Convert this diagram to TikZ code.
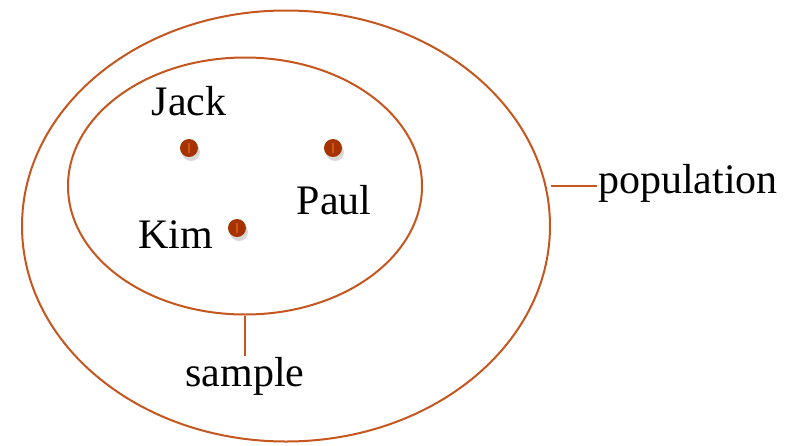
\documentclass[tikz,border=0pt]{standalone}
\usepackage{fontspec}
\setmainfont{Liberation Serif}
\usepackage{xcolor}
\usetikzlibrary{shapes.geometric, shadows}
\definecolor{rim}{HTML}{C4561E}
\definecolor{bead}{HTML}{A53300}
\definecolor{beadlit}{HTML}{D0561E}

\begin{document}
\begin{tikzpicture}[
  x=1pt, y=-1pt,
  font=\fontsize{42}{48}\selectfont,
  every node/.style={align=center},
  setring/.style={ellipse, draw=rim, line width=2pt, inner sep=0pt},
  member/.style={circle, fill=bead, minimum size=18pt, inner sep=0pt,
    drop shadow={opacity=0.3, shadow xshift=2pt, shadow yshift=-4pt}},
  who/.style={inner sep=1pt},
  tie/.style={draw=rim, line width=2.4pt}
]
\useasboundingbox (0,0) rectangle (798,445);
\node[setring, minimum width=528pt, minimum height=431pt] (pop) at (286,226) {};
\node[setring, minimum width=354pt, minimum height=257pt] (smp) at (245,186) {};
% members of the sample
\node[member] (jackdot) at (189,148) {};
\node[member] (pauldot) at (333,148) {};
\node[member] (kimdot) at (237,228) {};
\foreach \d in {jackdot, pauldot, kimdot}
  \draw[beadlit, line width=2pt] ([yshift=5pt]\d.center) -- ([yshift=-5pt]\d.center);
\node[who] (jack) at (189,101) {Jack};
\node[who] (paul) at (334,200) {Paul};
\node[who] (kim) at (176,235) {Kim};
\node[who, anchor=west] (poplabel) at (597,183) {population};
\node[who] (smplabel) at (245,376) {sample};
\draw[tie] (smp.south) -- (smplabel.north);
\draw[tie] (poplabel.west |- 0,186) -- (pop.east |- 0,186);
\end{tikzpicture}
\end{document}
